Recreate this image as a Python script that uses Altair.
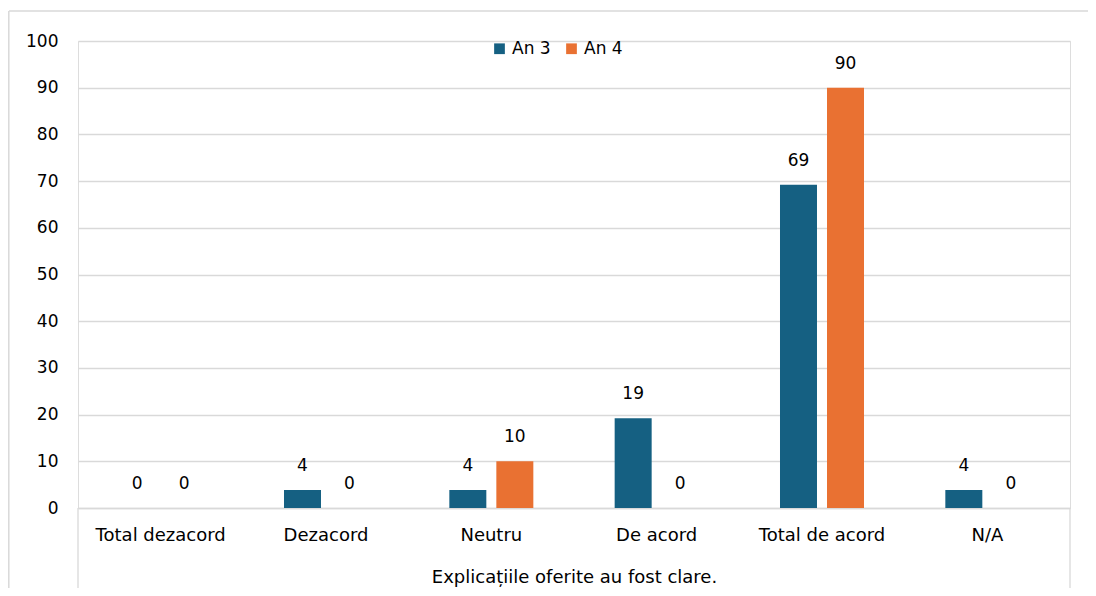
import altair as alt
import pandas as pd

categories = ["Total dezacord", "Dezacord", "Neutru", "De acord", "Total de acord", "N/A"]
series = ["An 3", "An 4"]
an3 = [0, 3.85, 3.85, 19.23, 69.23, 3.85]
an4 = [0, 0, 10, 0, 90, 0]
colors = ["#156082", "#E97132"]
group_title = "Explicațiile oferite au fost clare."

rows = []
for c, a, b in zip(categories, an3, an4):
    rows.append({"cat": c, "serie": "An 3", "val": a})
    rows.append({"cat": c, "serie": "An 4", "val": b})
df = pd.DataFrame(rows)

FONT = "DejaVu Sans"
FS_TXT = 18
FS_NUM = 17
W, H = 992, 467

x_enc = alt.X("cat:N", sort=categories,
              scale=alt.Scale(paddingInner=0, paddingOuter=0),
              axis=alt.Axis(title=group_title, labelAngle=0, ticks=False,
                            domainColor="#d9d9d9", domainWidth=1.3,
                            labelFontSize=FS_TXT, labelColor="#000000", labelPadding=18,
                            labelFont=FONT, titleFont=FONT, titleFontSize=FS_TXT,
                            titleFontWeight="normal", titleColor="#000000",
                            titlePadding=24))
xo_enc = alt.XOffset("serie:N", sort=series,
                     scale=alt.Scale(paddingInner=0.213, paddingOuter=0.865))

base = alt.Chart(df)

bars = base.mark_bar().encode(
    x=x_enc,
    xOffset=xo_enc,
    y=alt.Y("val:Q", scale=alt.Scale(domain=[0, 100], nice=False),
            axis=alt.Axis(title=None, values=list(range(0, 101, 10)), ticks=False,
                          domain=False, gridColor="#d9d9d9", gridWidth=1.3,
                          labelFontSize=FS_NUM, labelColor="#000000", labelPadding=20,
                          labelFont=FONT)),
    color=alt.Color("serie:N", sort=series,
                    scale=alt.Scale(domain=series, range=colors),
                    legend=alt.Legend(title=None, orient="none", legendX=413, legendY=-1,
                                      direction="horizontal", symbolType="square",
                                      symbolSize=115, symbolStrokeWidth=0,
                                      labelFontSize=FS_NUM, labelFont=FONT,
                                      labelColor="#000000", labelOffset=4,
                                      columnPadding=12)),
)

labels = base.mark_text(fontSize=FS_NUM, font=FONT, color="#000000", baseline="middle", dy=-24).encode(
    x=alt.X("cat:N", sort=categories),
    xOffset=xo_enc,
    y="val:Q",
    text=alt.Text("val:Q", format=".0f"),
)

frame_df = pd.DataFrame({"k": [0]})
left_rule = alt.Chart(frame_df).mark_rule(color="#d9d9d9", strokeWidth=1.3).encode(
    x=alt.value(0), y=alt.value(H), y2=alt.value(H + 113))
right_rule = alt.Chart(frame_df).mark_rule(color="#d9d9d9", strokeWidth=1.3).encode(
    x=alt.value(W), y=alt.value(H), y2=alt.value(H + 113))
box_top = alt.Chart(frame_df).mark_rule(color="#d9d9d9", strokeWidth=1.5).encode(
    x=alt.value(-69), x2=alt.value(1020), y=alt.value(-30))
box_left = alt.Chart(frame_df).mark_rule(color="#d9d9d9", strokeWidth=1.5).encode(
    x=alt.value(-69.2), y=alt.value(-30), y2=alt.value(H + 113))

chart = alt.layer(bars, labels, left_rule, right_rule, box_top, box_left).properties(
    width=W, height=H,
    autosize=alt.AutoSizeParams(type="none"),
    padding={"left": 70, "top": 33, "right": 18, "bottom": 80},
).configure_view(stroke=None).configure(background="#ffffff")

chart.save("out.html", embed_options={"renderer": "svg", "actions": False})
